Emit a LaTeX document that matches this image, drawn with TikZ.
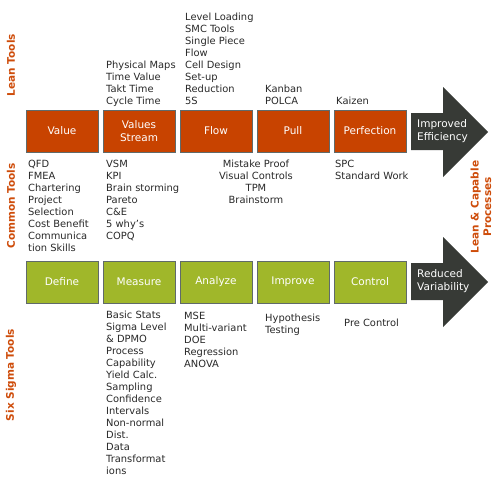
\documentclass[tikz,border=0pt]{standalone}
\usepackage{fontspec}
\setmainfont{DejaVu Sans}
\definecolor{leanfill}{RGB}{200,67,0}
\definecolor{sixfill}{RGB}{160,183,42}
\definecolor{boxline}{RGB}{96,106,106}
\definecolor{arrowdark}{RGB}{55,58,54}
\definecolor{labelor}{RGB}{206,76,10}
\definecolor{txt}{RGB}{40,40,40}
\newcommand{\st}{\rule{0pt}{8pt}}
\tikzset{
  phase/.style={draw=boxline, line width=1pt, minimum width=72pt, minimum height=42pt, inner sep=0pt,
    text=white, font=\fontsize{10.5}{13}\selectfont, align=center, anchor=north west},
  leanbox/.style={phase, fill=leanfill},
  sixbox/.style={phase, fill=sixfill},
  lst/.style={font=\fontsize{9.9}{12}\selectfont, text=txt, align=left, anchor=north west, inner sep=0pt},
  lstc/.style={lst, align=center, anchor=north},
  sidelabel/.style={font=\fontsize{10.5}{12.5}\selectfont\bfseries, text=labelor, rotate=90, align=center, inner sep=0pt},
  arrowshape/.style={fill=arrowdark, draw=none},
  arrowtext/.style={font=\fontsize{10.5}{12.5}\selectfont, text=white, align=left, anchor=west, inner sep=0pt}
}
\begin{document}
\begin{tikzpicture}[x=1pt,y=-1pt]
\useasboundingbox (0,0) rectangle (500,485);
% side labels
\node[sidelabel] (leanlab) at (11,65) {Lean Tools};
\node[sidelabel] (commonlab) at (11,206) {Common Tools};
\node[sidelabel] (sixlab) at (11,375) {Six Sigma Tools};
\node[sidelabel] (rightlab) at (481,207) {Lean \& Capable\\Processes};
% lean boxes
\node[leanbox] (value) at (25.5,109.5) {Value};
\node[leanbox] (vstream) at (102.5,109.5) {Values\\Stream};
\node[leanbox] (flow) at (179.5,109.5) {Flow};
\node[leanbox] (pull) at (256.5,109.5) {Pull};
\node[leanbox] (perf) at (333.5,109.5) {Perfection};
% six sigma boxes
\node[sixbox] (define) at (25.5,260.5) {Define};
\node[sixbox] (measure) at (102.5,260.5) {Measure};
\node[sixbox] (analyze) at (179.5,260.5) {Analyze};
\node[sixbox] (improve) at (256.5,260.5) {Improve};
\node[sixbox] (control) at (333.5,260.5) {Control};
% arrows
\coordinate (a1) at (411,113);
\fill[arrowshape] (a1) -- (443,113) -- (443,87) -- (488,132) -- (443,177) -- (443,150) -- (411,150) -- cycle;
\node[arrowtext] (effic) at (417,131) {Improved\\Efficiency};
\coordinate (a2) at (411,263);
\fill[arrowshape] (a2) -- (443,263) -- (443,237) -- (488,282) -- (443,327) -- (443,300) -- (411,300) -- cycle;
\node[arrowtext] (varia) at (417,281) {Reduced\\Variability};
% lean tools lists
\node[lst] (vsl) at (106,60.6) {\st Physical Maps\\Time Value\\Takt Time\\Cycle Time};
\node[lst] (fl) at (185,12.6) {\st Level Loading\\SMC Tools\\Single Piece\\Flow\\Cell Design\\Set-up\\Reduction\\5S};
\node[lst] (pl) at (265,84.6) {\st Kanban\\POLCA};
\node[lst] (pfl) at (336,96.6) {\st Kaizen};
% common tools lists
\node[lst] (c1) at (28,159.6) {\st QFD\\FMEA\\Chartering\\Project\\Selection\\Cost Benefit\\Communica\\tion Skills};
\node[lst] (c2) at (106,159.6) {\st VSM\\KPI\\Brain storming\\Pareto\\C\&E\\5 why’s\\COPQ};
\node[lstc] (c3) at (256,159.6) {\st Mistake Proof\\Visual Controls\\TPM\\Brainstorm};
\node[lst] (c5) at (335,159.6) {\st SPC\\Standard Work};
% six sigma lists
\node[lst] (s2) at (106,310.6) {\st Basic Stats\\Sigma Level\\\& DPMO\\Process\\Capability\\Yield Calc.\\Sampling\\Confidence\\Intervals\\Non-normal\\Dist.\\Data\\Transformat\\ions};
\node[lst] (s3) at (184,311.6) {\st MSE\\Multi-variant\\DOE\\Regression\\ANOVA};
\node[lst] (s4) at (265,313.6) {\st Hypothesis\\Testing};
\node[lst] (s5) at (344,318.6) {\st Pre Control};
\end{tikzpicture}
\end{document}
